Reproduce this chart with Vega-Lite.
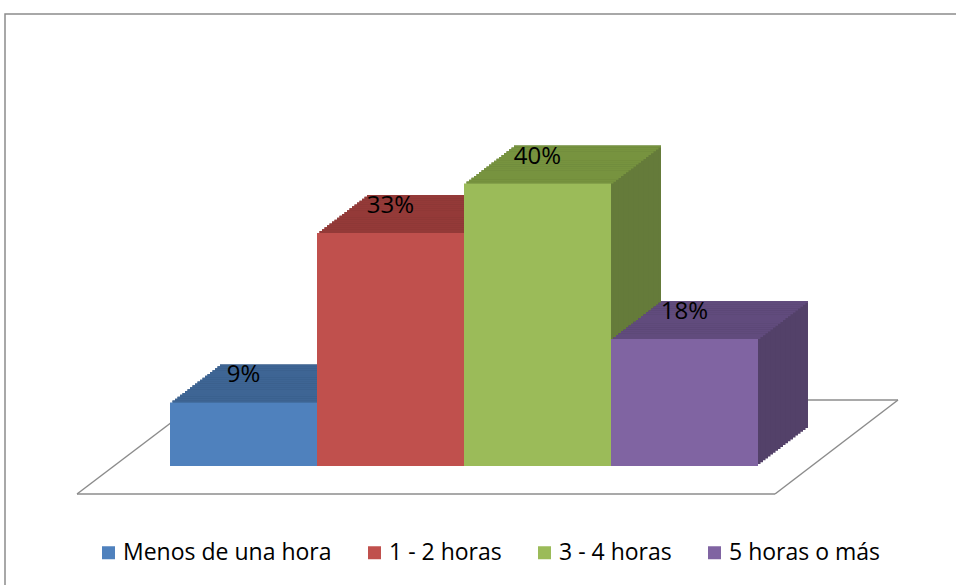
{
  "$schema": "https://vega.github.io/schema/vega-lite/v6.json",
  "width": 953,
  "height": 573,
  "autosize": {"type": "none"},
  "padding": {"left": 5, "top": 14, "right": -2, "bottom": -2},
  "background": "white",
  "datasets": {
    "bars": [
      {"cat": "Menos de una hora", "pct": 9, "label": "9%"},
      {"cat": "1 - 2 horas", "pct": 33, "label": "33%"},
      {"cat": "3 - 4 horas", "pct": 40, "label": "40%"},
      {"cat": "5 horas o más", "pct": 18, "label": "18%"}
    ],
    "floor": [
      {"from": "Menos de una hora", "to": "5 horas o más", "base": 0}
    ]
  },
  "encoding": {
    "x": {"field": "cat", "type": "nominal", "sort": null, "axis": null,
      "scale": {"domain": ["Menos de una hora", "1 - 2 horas", "3 - 4 horas", "5 horas o más"], "range": [165, 753], "paddingInner": 0, "paddingOuter": 0}},
    "y": {"field": "pct", "type": "quantitative", "axis": null,
      "scale": {"domain": [0, 64], "range": [452, 0], "nice": false}}
  },
  "layer": [
    {"data": {"name": "floor"}, "mark": {"type": "rule", "stroke": "#8c8c8c", "strokeWidth": 1.5, "xOffset": -166.5, "x2Offset": 90.5, "yOffset": 28},
     "encoding": {"x": {"field": "from", "type": "nominal", "sort": null}, "x2": {"field": "to"}, "y": {"field": "base", "type": "quantitative"}}},
    {"data": {"name": "floor"}, "mark": {"type": "rule", "stroke": "#8c8c8c", "strokeWidth": 1.5, "xOffset": 90.5, "x2Offset": 213.5, "yOffset": 28, "y2Offset": -66},
     "encoding": {"x": {"field": "to", "type": "nominal", "sort": null}, "x2": {"field": "to"}, "y": {"field": "base", "type": "quantitative"}, "y2": {"field": "base"}}},
    {"data": {"name": "floor"}, "mark": {"type": "rule", "stroke": "#8c8c8c", "strokeWidth": 1.5, "xOffset": -42.5, "x2Offset": 213.5, "yOffset": -66},
     "encoding": {"x": {"field": "from", "type": "nominal", "sort": null}, "x2": {"field": "to"}, "y": {"field": "base", "type": "quantitative"}}},
    {"data": {"name": "floor"}, "mark": {"type": "rule", "stroke": "#8c8c8c", "strokeWidth": 1.5, "xOffset": -166.5, "x2Offset": -42.5, "yOffset": 28, "y2Offset": -66},
     "encoding": {"x": {"field": "from", "type": "nominal", "sort": null}, "x2": {"field": "from"}, "y": {"field": "base", "type": "quantitative"}, "y2": {"field": "base"}}},
    {
      "data": {"name": "bars"},
      "encoding": {
        "color": {"field": "cat", "type": "nominal", "legend": null,
        "scale": {"domain": ["Menos de una hora", "1 - 2 horas", "3 - 4 horas", "5 horas o más"], "range": ["#33547B", "#7D3432", "#657B3A", "#534169"]}}},
      "layer": [
        {"mark": {"type": "bar", "xOffset": 50, "yOffset": -38, "y2Offset": -38}},
        {"mark": {"type": "bar", "xOffset": 47.5, "yOffset": -36.1, "y2Offset": -36.1}},
        {"mark": {"type": "bar", "xOffset": 45, "yOffset": -34.2, "y2Offset": -34.2}},
        {"mark": {"type": "bar", "xOffset": 42.5, "yOffset": -32.3, "y2Offset": -32.3}},
        {"mark": {"type": "bar", "xOffset": 40, "yOffset": -30.4, "y2Offset": -30.4}},
        {"mark": {"type": "bar", "xOffset": 37.5, "yOffset": -28.5, "y2Offset": -28.5}},
        {"mark": {"type": "bar", "xOffset": 35, "yOffset": -26.6, "y2Offset": -26.6}},
        {"mark": {"type": "bar", "xOffset": 32.5, "yOffset": -24.7, "y2Offset": -24.7}},
        {"mark": {"type": "bar", "xOffset": 30, "yOffset": -22.8, "y2Offset": -22.8}},
        {"mark": {"type": "bar", "xOffset": 27.5, "yOffset": -20.9, "y2Offset": -20.9}},
        {"mark": {"type": "bar", "xOffset": 25, "yOffset": -19, "y2Offset": -19}},
        {"mark": {"type": "bar", "xOffset": 22.5, "yOffset": -17.1, "y2Offset": -17.1}},
        {"mark": {"type": "bar", "xOffset": 20, "yOffset": -15.2, "y2Offset": -15.2}},
        {"mark": {"type": "bar", "xOffset": 17.5, "yOffset": -13.3, "y2Offset": -13.3}},
        {"mark": {"type": "bar", "xOffset": 15, "yOffset": -11.4, "y2Offset": -11.4}},
        {"mark": {"type": "bar", "xOffset": 12.5, "yOffset": -9.5, "y2Offset": -9.5}},
        {"mark": {"type": "bar", "xOffset": 10, "yOffset": -7.6, "y2Offset": -7.6}},
        {"mark": {"type": "bar", "xOffset": 7.5, "yOffset": -5.7, "y2Offset": -5.7}},
        {"mark": {"type": "bar", "xOffset": 5, "yOffset": -3.8, "y2Offset": -3.8}},
        {"mark": {"type": "bar", "xOffset": 2.5, "yOffset": -1.9, "y2Offset": -1.9}}
      ]
    },
    {
      "data": {"name": "bars"},
      "encoding": {
        "y2": {"field": "pct"},
        "color": {"field": "cat", "type": "nominal", "legend": null,
        "scale": {"domain": ["Menos de una hora", "1 - 2 horas", "3 - 4 horas", "5 horas o más"], "range": ["#3E6594", "#943A38", "#77933F", "#614B7D"]}}},
      "layer": [
        {"mark": {"type": "bar", "xOffset": 50, "yOffset": -38, "y2Offset": -36}},
        {"mark": {"type": "bar", "xOffset": 47.5, "yOffset": -36.1, "y2Offset": -34.1}},
        {"mark": {"type": "bar", "xOffset": 45, "yOffset": -34.2, "y2Offset": -32.2}},
        {"mark": {"type": "bar", "xOffset": 42.5, "yOffset": -32.3, "y2Offset": -30.3}},
        {"mark": {"type": "bar", "xOffset": 40, "yOffset": -30.4, "y2Offset": -28.4}},
        {"mark": {"type": "bar", "xOffset": 37.5, "yOffset": -28.5, "y2Offset": -26.5}},
        {"mark": {"type": "bar", "xOffset": 35, "yOffset": -26.6, "y2Offset": -24.6}},
        {"mark": {"type": "bar", "xOffset": 32.5, "yOffset": -24.7, "y2Offset": -22.7}},
        {"mark": {"type": "bar", "xOffset": 30, "yOffset": -22.8, "y2Offset": -20.8}},
        {"mark": {"type": "bar", "xOffset": 27.5, "yOffset": -20.9, "y2Offset": -18.9}},
        {"mark": {"type": "bar", "xOffset": 25, "yOffset": -19, "y2Offset": -17}},
        {"mark": {"type": "bar", "xOffset": 22.5, "yOffset": -17.1, "y2Offset": -15.1}},
        {"mark": {"type": "bar", "xOffset": 20, "yOffset": -15.2, "y2Offset": -13.2}},
        {"mark": {"type": "bar", "xOffset": 17.5, "yOffset": -13.3, "y2Offset": -11.3}},
        {"mark": {"type": "bar", "xOffset": 15, "yOffset": -11.4, "y2Offset": -9.4}},
        {"mark": {"type": "bar", "xOffset": 12.5, "yOffset": -9.5, "y2Offset": -7.5}},
        {"mark": {"type": "bar", "xOffset": 10, "yOffset": -7.6, "y2Offset": -5.6}},
        {"mark": {"type": "bar", "xOffset": 7.5, "yOffset": -5.7, "y2Offset": -3.7}},
        {"mark": {"type": "bar", "xOffset": 5, "yOffset": -3.8, "y2Offset": -1.8}},
        {"mark": {"type": "bar", "xOffset": 2.5, "yOffset": -1.9, "y2Offset": 0.1}}
      ]
    },
    {
      "data": {"name": "bars"},
      "mark": {"type": "bar"},
      "encoding": {
        "color": {"field": "cat", "type": "nominal", "title": null,
        "scale": {"domain": ["Menos de una hora", "1 - 2 horas", "3 - 4 horas", "5 horas o más"], "range": ["#4F81BD", "#C0504D", "#9BBB59", "#8064A2"]}}}
    },
    {
      "data": {"name": "bars"},
      "mark": {"type": "text", "dy": -27, "font": "Open Sans", "fontSize": 24, "color": "#000000", "baseline": "middle", "align": "center"},
      "encoding": {"text": {"field": "label"}}
    }
  ],
  "resolve": {"scale": {"color": "independent"}},
  "config": {
    "view": {"stroke": "#8c8c8c", "strokeWidth": 1.5},
    "legend": {
      "orient": "none", "legendX": 92, "legendY": 527, "direction": "horizontal",
      "symbolType": "square", "symbolSize": 169, "symbolStrokeWidth": 0,
      "labelFont": "Open Sans", "labelFontSize": 23, "labelColor": "#000000",
      "labelOffset": 3, "columnPadding": 31, "padding": 0, "labelLimit": 0
    }
  }
}
